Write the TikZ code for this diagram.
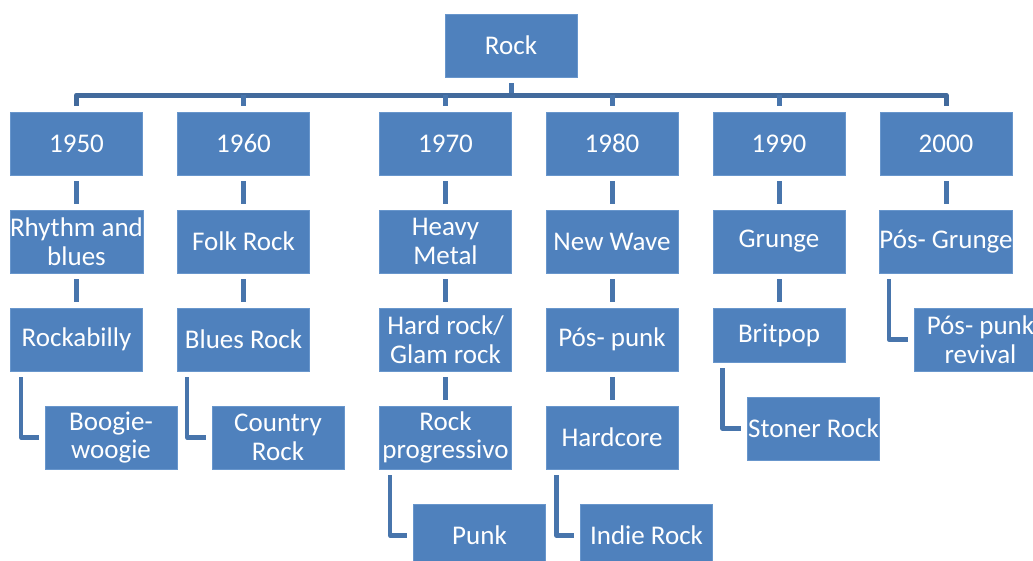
\documentclass[tikz,border=0pt]{standalone}
\usepackage{fontspec}
\setmainfont{Carlito}
\definecolor{boxfill}{RGB}{79,129,189}
\definecolor{boxedge}{RGB}{104,150,204}
\definecolor{buscol}{RGB}{66,106,156}
\definecolor{stubcol}{RGB}{72,117,172}
\begin{document}
\begin{tikzpicture}[x=1pt,y=-1pt,
  genre/.style={rectangle,fill=boxfill,draw=boxedge,line width=0.8pt,
    minimum width=132pt,minimum height=63pt,inner sep=0pt,
    text=white,align=center,font=\fontsize{27}{28.5}\selectfont},
  stub/.style={draw=stubcol,line width=5pt},
  busline/.style={draw=buscol,line width=5pt,line join=round},
  elbow/.style={draw=stubcol,line width=4.5pt,line join=round}]
\useasboundingbox (0,0) rectangle (1033,560);
\clip (0,0) rectangle (1033,560);
% root
\node[genre] (rock) at (511,45.5) {Rock};
% years
\node[genre] (y50) at (76.5,143.5) {1950};
\node[genre] (y60) at (243.5,143.5) {1960};
\node[genre] (y70) at (445.5,143.5) {1970};
\node[genre] (y80) at (612,143.5) {1980};
\node[genre] (y90) at (779,143.5) {1990};
\node[genre] (y00) at (946,143.5) {2000};
% row 2
\node[genre] (rb) at (76.5,241.5) {Rhythm and\\blues};
\node[genre] (folk) at (243.5,241.5) {Folk Rock};
\node[genre] (heavy) at (445.5,241.5) {Heavy\\Metal};
\node[genre] (wave) at (612,241.5) {New Wave};
\node[genre] (grunge) at (779,241.5) {Grunge};
\node[genre] (posg) at (946,241.5) {Pós- Grunge};
% row 3
\node[genre] (rab) at (76.5,339.5) {Rockabilly};
\node[genre] (blues) at (243.5,339.5) {Blues Rock};
\node[genre] (hard) at (445.5,339.5) {Hard rock/\\Glam rock};
\node[genre] (posp) at (612,339.5) {Pós- punk};
\node[genre,minimum height=54pt] (brit) at (779,335) {Britpop};
\node[genre] (revival) at (980.5,339.5) {Pós- punk\\revival};
% row 4
\node[genre] (boog) at (111,437.5) {Boogie-\\woogie};
\node[genre] (country) at (278,437.5) {Country\\Rock};
\node[genre] (prog) at (445.5,437.5) {Rock\\progressivo};
\node[genre] (hardcore) at (612,437.5) {Hardcore};
\node[genre] (stoner) at (813.5,428.5) {Stoner Rock};
% row 5
\node[genre] (punk) at (479.5,535.5) {Punk};
\node[genre] (indie) at (646.5,535.5) {Indie Rock};
% bus
\coordinate (bus) at (511,95);
\draw[stub] ([yshift=-6pt]rock.south) -- (bus);
\draw[busline] ([yshift=6pt]y50.north) -- (y50.north |- bus) -- (y00.north |- bus) -- ([yshift=6pt]y00.north);
\foreach \y in {y60,y70,y80,y90}
  \draw[stub] (\y.north |- bus) -- ([yshift=6pt]\y.north);
% vertical stubs
\draw[stub] ([yshift=-6pt]y50.south) -- ([yshift=6pt]rb.north);
\draw[stub] ([yshift=-6pt]y60.south) -- ([yshift=6pt]folk.north);
\draw[stub] ([yshift=-6pt]y70.south) -- ([yshift=6pt]heavy.north);
\draw[stub] ([yshift=-6pt]y80.south) -- ([yshift=6pt]wave.north);
\draw[stub] ([yshift=-6pt]y90.south) -- ([yshift=6pt]grunge.north);
\draw[stub] ([yshift=-6pt]y00.south) -- ([yshift=6pt]posg.north);
\draw[stub] ([yshift=-6pt]rb.south) -- ([yshift=6pt]rab.north);
\draw[stub] ([yshift=-6pt]folk.south) -- ([yshift=6pt]blues.north);
\draw[stub] ([yshift=-6pt]heavy.south) -- ([yshift=6pt]hard.north);
\draw[stub] ([yshift=-6pt]wave.south) -- ([yshift=6pt]posp.north);
\draw[stub] ([yshift=-6pt]grunge.south) -- ([yshift=6pt]brit.north);
\draw[stub] ([yshift=-6pt]hard.south) -- ([yshift=6pt]prog.north);
\draw[stub] ([yshift=-6pt]posp.south) -- ([yshift=6pt]hardcore.north);
% elbows
\draw[elbow] ([xshift=11pt,yshift=-6pt]rab.south west) |- ([xshift=-6pt]boog.west);
\draw[elbow] ([xshift=10pt,yshift=-6pt]blues.south west) |- ([xshift=-6pt]country.west);
\draw[elbow] ([xshift=11pt,yshift=-6pt]prog.south west) |- ([xshift=-6pt]punk.west);
\draw[elbow] ([xshift=11pt,yshift=-6pt]hardcore.south west) |- ([xshift=-6pt]indie.west);
\draw[elbow] ([xshift=10pt,yshift=-6pt]brit.south west) |- ([xshift=-6pt]stoner.west);
\draw[elbow] ([xshift=10pt,yshift=-6pt]posg.south west) |- ([xshift=-6pt]revival.west);
\end{tikzpicture}
\end{document}
